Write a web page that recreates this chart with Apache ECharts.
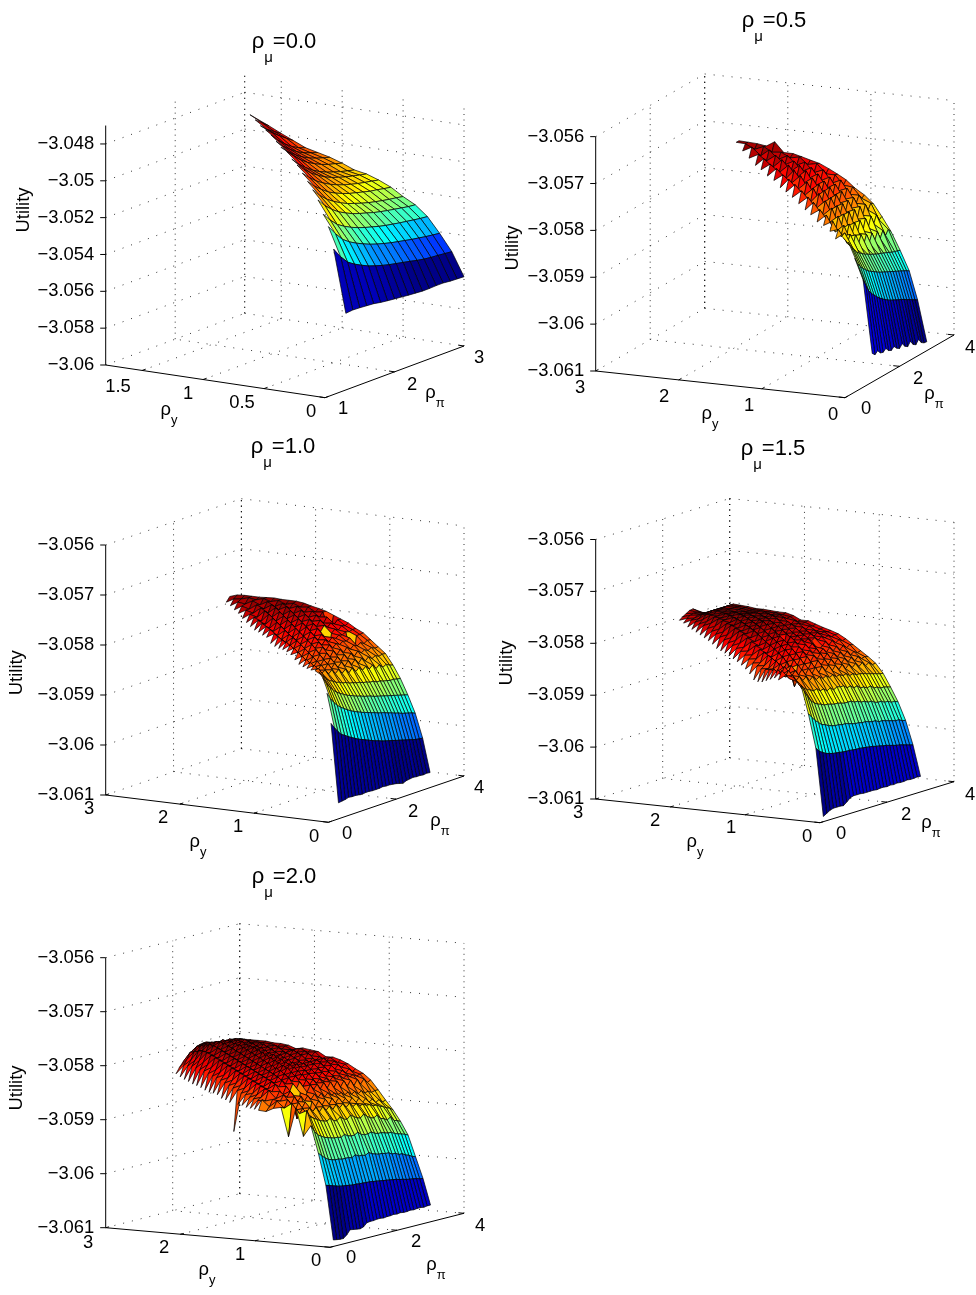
<!DOCTYPE html>
<html><head><meta charset="utf-8">
<style>html,body{margin:0;padding:0;background:#fff}#c{width:976px;height:1295px}</style>
<script src="https://cdn.jsdelivr.net/npm/echarts@6/dist/echarts.min.js"></script>
</head><body><div id="c"></div>
<script>
// Surface heights: utility above the axis floor, in units of 1e-5.
// Each row is one rho_y; its last value is at the largest rho_pi. Short rows start at a larger rho_pi
// because the surface only exists over a staircase part of the (rho_y, rho_pi) plane.
const rhoY_fine=[0,.1,.2,.3,.4,.5,.6,.7,.8,.9,1,1.1,1.2,1.3,1.4,1.5,1.6,1.7,1.8,1.9,2,2.1,2.2,2.3,2.4,2.5,2.6,2.7,2.8,2.9,3];
const rhoY_05=[0,.11,.21,.32,.43,.54,.64,.75,.86,.97,1.07,1.18,1.29,1.4,1.5,1.61,1.72,1.83,1.93,2.04,2.15,2.26];
const rhoPi_00=[1.3,1.4,1.5,1.6,1.7,1.8,1.9,2,2.1,2.2,2.3,2.4,2.5,2.6,2.7,2.8,2.9,3];
const util_00=[
[416,420,418,415,412,405,400,396,392,388,385,382,382,384,384,380,378,376],
[755,699,656,631,611,593,580,568,558,550,542,534,525,518,513,510,506,502],
[853,801,756,728,707,689,673,660,649,639,631,623,615,609,602,597,592],
[896,851,813,789,769,753,740,729,718,709,702,695,689,683,677,673],
[950,905,870,843,823,805,792,781,769,760,752,745,738,731,727],
[981,937,902,876,854,836,823,810,799,790,782,775,769,762],
[1003,963,931,903,883,867,853,843,833,823,817,809,803],
[1024,986,953,928,907,890,876,865,855,847,840,832],
[1044,1006,972,946,923,906,893,881,872,863,855],
[1052,1011,978,950,928,911,898,886,876,867],
[1070,1031,996,968,947,929,915,905,894],
[1068,1030,1000,974,954,939,927,916],
[1077,1036,1005,978,958,944,932],
[1088,1046,1011,983,962,948],
[1091,1060,1030,1003,977],
[1090,1055,1030,1006],
[1098,1068,1037],
[1102,1066]];
const rhoPi_05=[1,1.1,1.2,1.3,1.4,1.5,1.6,1.7,1.8,1.9,2,2.1,2.2,2.3,2.4,2.5,2.6,2.7,2.8,2.9,3];
const util_05=[
[61,55,60,52,50,55,47,44,49,42,38,45,36,32,40,30,26,34,24,20,19],
[216,200,186,177,170,163,157,152,147,143,139,136,133,130,127,124,120,117,113,110,106],
[260,245,236,228,222,216,212,208,204,200,197,194,191,188,185,182,179,176,173,170,166],
[289,276,266,258,252,248,243,240,236,233,230,227,225,222,220,217,214,212,210,208],
[296,300,274,290,262,282,258,276,252,270,248,266,246,262,244,258,244,254,246],
[285,302,284,304,276,300,272,296,270,294,268,292,268,290,270,286,272,276],
[296,314,288,318,286,316,286,314,286,312,288,312,290,310,294,306,301],
[303,322,302,330,302,328,302,326,304,326,306,326,310,324,314,318],
[305,328,312,340,314,340,316,340,318,340,320,340,324,336,330],
[315,338,322,350,324,350,326,350,328,350,332,352,338,346],
[320,344,330,356,334,358,336,358,340,360,344,358,356],
[328,352,338,364,342,366,346,368,350,370,358,366],
[336,360,346,372,352,376,356,376,362,378,375],
[342,366,354,378,360,382,366,382,374,380],
[346,370,358,384,368,386,374,388,385],
[356,378,366,390,376,392,384,390],
[360,382,372,394,382,394,390],
[368,388,380,400,392,411],
[372,392,386,402,400],
[382,402,394,403],
[392,404,404],
[405,405]];
const rhoPi_10=[.3,.4,.5,.6,.7,.8,.9,1,1.1,1.2,1.3,1.4,1.5,1.6,1.7,1.8,1.9,2,2.1,2.2,2.3,2.4,2.5,2.6,2.7,2.8,2.9,3];
const util_10=[
[32,33,34,36,35,35,34,33,34,34,33,33,33,34,33,33,32,31,29,27,30,31,32,31,31,30,31,30],
[189,178,168,160,156,151,147,143,139,136,133,130,127,124,122,119,117,115,113,111,109,107,105,103,101,99,98,97],
[245,232,222,214,208,203,198,194,190,187,184,181,179,176,174,171,169,167,164,162,159,157,154,152,150,148,145],
[271,258,248,240,234,229,225,221,218,215,212,210,207,205,203,200,198,196,194,192,190,188,186,184,182,180],
[280,270,262,255,252,247,245,241,240,236,235,232,231,228,227,224,224,220,220,217,216,214,214,212,211],
[278,280,268,272,262,268,258,264,254,260,250,258,248,254,246,252,244,250,240,246,238,242,238,236],
[275,282,270,278,266,276,264,272,262,270,260,268,258,266,256,264,256,262,256,260,256,258,257],
[274,284,272,282,270,280,268,278,268,276,266,276,266,274,266,274,268,272,268,272,268,269],
[273,286,274,286,274,286,274,284,274,284,274,282,274,282,276,282,278,282,278,282,281],
[274,288,276,290,280,292,282,292,284,292,284,290,286,290,288,292,240,292,292,293],
[279,292,280,294,284,298,288,298,290,298,292,298,294,298,296,300,298,300,300],
[285,296,284,298,288,302,292,304,296,304,298,235,300,306,302,308,306,309],
[287,298,288,302,292,306,296,310,300,312,304,314,308,314,310,316,315],
[287,300,290,304,296,310,300,316,306,318,310,320,312,322,285,321],
[285,300,292,306,298,314,304,320,310,322,316,326,320,328,327],
[285,302,294,310,302,318,310,324,316,328,320,330,326,331],
[287,304,298,314,306,322,314,328,320,332,326,334,334],
[295,308,302,318,310,326,318,332,324,336,332,338],
[295,310,304,322,314,330,322,336,330,338,340],
[297,312,308,326,318,334,328,338,334,340],
[297,314,310,328,322,336,330,340,340],
[300,316,314,330,326,338,336,341],
[304,318,318,332,330,340,340],
[308,322,322,336,336,339],
[314,326,328,338,339],
[317,330,334,339],
[321,332,338],
[324,333]];
const rhoPi_15=[.1,.2,.3,.4,.5,.6,.7,.8,.9,1,1.1,1.2,1.3,1.4,1.5,1.6,1.7,1.8,1.9,2,2.1,2.2,2.3,2.4,2.5,2.6,2.7,2.8,2.9,3];
const util_15=[
[10,14,18,20,20,20,19,24,30,32,32,32,31,31,31,31,30,31,31,30,31,30,31,30,30,31,30,30,31,30],
[140,132,128,124,122,120,119,118,117,116,116,115,114,114,113,112,111,110,108,107,105,104,102,100,98,97,95,93,91,89],
[205,196,188,182,176,174,170,168,166,166,164,164,162,160,158,158,156,156,154,152,152,148,148,146,144,142,140,140,136,135],
[259,244,232,222,216,212,210,206,206,204,202,202,200,198,198,198,194,194,190,190,186,186,182,180,180,176,176,172,172,169],
[272,262,252,246,240,238,234,236,230,232,226,230,224,228,226,226,220,222,216,218,212,212,208,210,204,204,200,200,198,196],
[275,266,270,258,264,254,260,250,256,248,252,246,250,244,248,242,244,240,242,236,238,234,234,232,230,228,226,224,222,221],
[264,280,266,276,264,272,262,270,258,268,256,266,254,264,254,262,250,258,248,256,246,252,244,250,242,248,240,244,238,239],
[264,278,266,280,264,278,236,276,262,274,260,272,260,272,262,270,258,266,256,264,254,260,252,258,250,256,250,252,250],
[258,276,268,282,268,282,268,282,268,280,268,280,268,278,270,278,266,274,264,270,262,268,260,266,258,262,258,260],
[252,272,270,284,274,288,276,288,276,286,276,286,278,284,278,284,274,280,272,278,270,276,268,274,268,272,270],
[246,268,268,286,278,292,282,294,282,292,282,292,284,292,284,290,282,273,280,286,278,284,278,282,278,280],
[243,266,270,288,282,296,286,298,288,298,290,298,292,298,292,296,290,294,288,292,288,290,286,288,288],
[243,268,272,290,286,300,290,302,292,302,294,304,296,302,294,300,292,298,292,296,292,294,292,293],
[251,270,276,292,290,302,294,306,296,306,280,306,298,304,296,302,296,300,294,298,294,296,297],
[257,274,280,296,294,306,298,308,300,310,302,310,302,308,300,306,298,304,298,302,300,302],
[261,278,284,300,298,310,302,312,304,314,306,314,306,312,304,310,304,308,304,306,307],
[264,282,288,304,302,314,306,316,308,318,308,316,308,314,306,312,304,310,306,307],
[266,284,292,308,306,316,310,318,312,320,312,318,312,318,312,316,312,314,314],
[268,286,294,310,308,318,312,320,314,320,316,320,316,320,316,318,316,318],
[270,288,296,312,310,320,314,322,316,322,316,320,316,320,316,318,318],
[271,290,298,314,312,322,316,324,318,322,318,322,318,320,318,319],
[272,292,300,314,314,322,318,324,320,322,320,320,320,320,320],
[277,294,302,316,316,322,320,324,320,322,320,320,320,320],
[280,296,304,316,316,322,320,322,320,322,322,322,322],
[282,298,306,316,316,320,320,322,322,323,323,323],
[284,300,306,316,316,320,320,322,324,324,324],
[286,300,306,314,314,318,318,318,318,317],
[288,300,304,310,310,312,312,310,309],
[289,300,302,306,306,306,304,304],
[293,300,304,306,306,304,301],
[295,300,304,308,309,305]];
const rhoPi_20=[.1,.2,.3,.4,.5,.6,.7,.8,.9,1,1.1,1.2,1.3,1.4,1.5,1.6,1.7,1.8,1.9,2,2.1,2.2,2.3,2.4,2.5,2.6,2.7,2.8,2.9,3];
const util_20=[
[12,11,10,10,15,23,22,21,20,22,28,29,29,30,30,29,30,30,31,30,31,30,30,31,30,31,31,30,31,31],
[112,110,108,106,104,103,102,101,100,100,99,99,98,98,97,96,95,94,93,92,91,90,88,87,85,84,83,82,80,79],
[170,164,158,154,152,150,150,148,148,148,146,150,146,146,144,148,144,142,140,140,138,138,134,134,130,130,126,124,120,118],
[220,208,200,196,192,190,188,186,186,184,188,184,182,182,186,180,178,178,180,176,174,174,172,170,170,166,164,162,160,157],
[199,245,232,228,224,220,218,216,220,214,212,218,212,210,216,212,208,206,212,206,202,200,204,196,194,190,194,186,184,181],
[250,238,246,236,244,236,242,232,240,232,238,230,238,230,236,228,234,226,230,224,226,222,222,218,218,214,212,208,206,201],
[196,256,242,254,242,252,222,250,238,248,238,248,236,246,236,244,234,240,230,238,226,234,224,230,222,226,218,222,216,218],
[249,246,260,250,262,252,260,250,258,250,258,250,256,248,254,248,250,246,248,242,246,240,244,238,242,236,238,234,236,236],
[246,258,256,266,260,270,260,216,262,238,260,272,262,270,260,270,258,268,256,266,254,264,252,262,250,260,250,258,250,253],
[239,246,258,258,270,262,276,264,278,266,278,268,278,268,276,268,274,268,272,266,272,266,270,264,268,264,266,262,264,264],
[240,258,254,272,268,280,274,284,276,286,278,286,278,286,276,284,274,282,274,280,272,278,270,276,270,274,268,274,268,271],
[239,254,258,272,270,282,278,288,280,290,282,290,282,290,280,288,280,286,278,284,278,284,276,284,276,282,276,280,279],
[238,254,260,274,272,284,280,290,284,294,284,296,284,294,284,292,282,290,282,290,282,288,282,288,282,286,282,285],
[237,254,260,276,274,286,282,292,286,296,286,298,286,296,286,294,286,292,286,292,286,292,286,292,286,290,289],
[238,256,262,278,276,288,284,294,288,298,288,300,288,298,286,294,286,292,286,292,286,292,286,292,286,289],
[237,256,264,280,278,290,286,296,290,300,290,302,290,300,288,296,288,296,290,298,290,298,292,298,297],
[184,258,266,282,280,292,288,298,292,302,292,304,292,302,290,298,290,298,292,300,294,300,296,299],
[235,260,268,284,282,294,290,300,294,304,296,306,294,304,292,300,292,300,294,302,296,302,301],
[237,262,270,286,284,296,292,302,296,306,298,308,296,304,294,302,294,300,296,300,298,299],
[237,264,272,288,286,298,294,304,298,308,300,310,298,306,298,304,298,304,300,304,304],
[241,266,274,290,288,300,296,306,300,310,302,312,300,308,300,306,300,306,302,306],
[241,268,276,292,290,302,298,308,302,312,304,312,302,308,302,308,302,306,306],
[240,268,278,294,292,304,300,310,304,314,304,312,304,310,304,308,306,308],
[241,270,280,296,294,306,302,312,306,314,306,314,306,310,306,308,308],
[243,272,282,298,296,308,304,314,306,314,308,314,306,312,308,308],
[244,272,284,300,298,310,304,314,308,314,308,312,308,310,308],
[244,272,284,300,298,310,304,312,306,312,306,310,308,308],
[246,272,282,298,296,306,300,308,302,306,302,302,299],
[247,270,280,294,292,302,298,304,300,302,298,298],
[249,268,278,290,288,298,296,300,298,298,297],
[252,262,270,276,282,288,292,295,296,297]];

const zTicks_00=[-3.06,-3.058,-3.056,-3.054,-3.052,-3.05,-3.048];
const zLabels_00=['−3.06','−3.058','−3.056','−3.054','−3.052','−3.05','−3.048'];
const zTicks_rest=[-3.061,-3.06,-3.059,-3.058,-3.057,-3.056];
const zLabels_rest=['−3.061','−3.06','−3.059','−3.058','−3.057','−3.056'];
const yTicks_00=[0,.5,1,1.5], yLabels_00=['0','0.5','1','1.5'];
const piTicks_00=[1,2,3];
const yTicks_rest=[0,1,2,3], piTicks_rest=[0,2,4];

const FONT='"Liberation Sans",Arial,sans-serif';
const panels=[
{name:'0.0',rhoY:rhoY_fine,rhoPi:rhoPi_00,util:util_00,zTicks:zTicks_00,zLabels:zLabels_00,yTicks:yTicks_00,yLabels:yLabels_00,piTicks:piTicks_00,
 zLim:[-3.06,-3.047],yLim:[0,1.8],piLim:[1,3],O:[325,397.7],L:[105.7,365],R:[464,346],zPx:18.42,
 title:[284,41],yName:[169,417],piName:[435,400],uName:[24.3,210],
 yPos:[[311,412],[242,403],[188,394],[118,387]],piPos:[[343,409],[412,385],[479,358]]},
{name:'0.5',rhoY:rhoY_05,rhoPi:rhoPi_05,util:util_05,zTicks:zTicks_rest,zLabels:zLabels_rest,yTicks:yTicks_rest,piTicks:piTicks_rest,
 zLim:[-3.061,-3.056],yLim:[0,3],piLim:[0,4],O:[845,397.7],L:[595.7,371],R:[954,335],zPx:46.87,
 title:[774,20],yName:[710,421],piName:[934,401],uName:[512.7,248],
 yPos:[[833,415],[749,406],[664,397],[580,388]],piPos:[[866,409],[918,379],[970,348]]},
{name:'1.0',rhoY:rhoY_fine,rhoPi:rhoPi_10,util:util_10,zTicks:zTicks_rest,zLabels:zLabels_rest,yTicks:yTicks_rest,piTicks:piTicks_rest,
 zLim:[-3.061,-3.056],yLim:[0,3],piLim:[0,4],O:[328.3,822.3],L:[105.7,795],R:[464,776],zPx:50,
 title:[283,446],yName:[198,849],piName:[440,828],uName:[17.3,672.7],
 yPos:[[314,837],[238,827],[163,818],[89,809]],piPos:[[347,834],[413,812],[479,788]]},
{name:'1.5',rhoY:rhoY_fine,rhoPi:rhoPi_15,util:util_15,zTicks:zTicks_rest,zLabels:zLabels_rest,yTicks:yTicks_rest,piTicks:piTicks_rest,
 zLim:[-3.061,-3.056],yLim:[0,3],piLim:[0,4],O:[820,822.7],L:[595.7,799],R:[954,781.7],zPx:51.9,
 title:[773,448],yName:[695,849],piName:[931,830],uName:[506.7,663],
 yPos:[[807,837],[731,828],[655,821],[578,813]],piPos:[[841,834],[906,815],[970,795]]},
{name:'2.0',rhoY:rhoY_fine,rhoPi:rhoPi_20,util:util_20,zTicks:zTicks_rest,zLabels:zLabels_rest,yTicks:yTicks_rest,piTicks:piTicks_rest,
 zLim:[-3.061,-3.056],yLim:[0,3],piLim:[0,4],O:[330,1247.3],L:[105.7,1227.7],R:[464,1213.3],zPx:54,
 title:[284,876],yName:[207,1277],piName:[436,1272],uName:[17.3,1088],
 yPos:[[316,1261],[240,1255],[164,1248],[88,1243]],piPos:[[351,1258],[416,1242],[480,1226]]}
];

function jet(v){
  const k=Math.min(63,Math.max(0,Math.floor(v*64)));const t=(k+.5)/64;
  const f=c=>Math.round(255*Math.max(0,Math.min(1,1.5-Math.abs(4*t-c))));
  return 'rgb('+f(3)+','+f(2)+','+f(1)+')';
}
function projector(p){
  const ys=p.yLim[1]-p.yLim[0], ps=p.piLim[1]-p.piLim[0];
  const ax=(p.L[0]-p.O[0])/ys, ay=(p.L[1]-p.O[1])/ys, bx=(p.R[0]-p.O[0])/ps, by=(p.R[1]-p.O[1])/ps;
  return (y,pi,z)=>[p.O[0]+(y-p.yLim[0])*ax+(pi-p.piLim[0])*bx,
                    p.O[1]+(y-p.yLim[0])*ay+(pi-p.piLim[0])*by-(z-p.zLim[0])*1000*p.zPx];
}
const sub=(a,b)=>'{r|'+a+'}{s|'+b+'}';
const rich=(fs,lh,ss,sh)=>({
  r:{fontFamily:FONT,fontWeight:'normal',fontSize:fs,lineHeight:lh,verticalAlign:'top',color:'#000',fill:'#000'},
  s:{fontFamily:FONT,fontWeight:'normal',fontSize:ss,lineHeight:sh,verticalAlign:'bottom',color:'#000',fill:'#000'}});

const series=[];const titles=[];
panels.forEach((p)=>{
  const P=projector(p);
  const [z0,z1]=p.zLim,[y0,y1]=p.yLim,[q0,q1]=p.piLim;
  const dots=[];
  p.zTicks.forEach(z=>{dots.push([y1,q0,z,y1,q1,z,0]);dots.push([y1,q1,z,y0,q1,z,0]);});
  p.yTicks.forEach(y=>{dots.push([y,q1,z0,y,q1,z1,1]);if(y>y0&&y<y1)dots.push([y,q0,z0,y,q1,z0,0]);});
  p.piTicks.forEach(q=>{if(q>q0)dots.push([y1,q,z0,y1,q,z1,1]);if(q>q0&&q<q1)dots.push([y0,q,z0,y1,q,z0,0]);});
  dots.push([y1,q1,z0,y1,q1,z1,1]);
  const seg=(api,a,b)=>{const s=api.coord(a),e=api.coord(b);return {x1:s[0],y1:s[1],x2:e[0],y2:e[1]};};
  series.push({type:'custom',name:'grid '+p.name,coordinateSystem:'cartesian2d',silent:true,animation:false,clip:false,data:dots,z:1,
    renderItem:(o,api)=>{
      const v=[0,1,2,3,4,5,6].map(i=>api.value(i));
      return {type:'line',shape:seg(api,P(v[0],v[1],v[2]),P(v[3],v[4],v[5])),
        style:{stroke:'#000',lineWidth:.8,lineDash:v[6]?[1,4.5]:[1,8],fill:null}};
    }});
  const axes=[[y1,q0,z0,y1,q0,z1],[y1,q0,z0,y0,q0,z0],[y0,q0,z0,y0,q1,z0]];
  const tl=.025;
  p.yTicks.forEach(y=>axes.push([y,q0,z0,y,q0+(q1-q0)*tl,z0]));
  p.piTicks.forEach(q=>axes.push([y0,q,z0,y0+(y1-y0)*tl,q,z0]));
  series.push({type:'custom',name:'axes '+p.name,coordinateSystem:'cartesian2d',silent:true,animation:false,clip:false,data:axes,z:2,
    renderItem:(o,api)=>{
      const v=[0,1,2,3,4,5].map(i=>api.value(i));
      return {type:'line',shape:seg(api,P(v[0],v[1],v[2]),P(v[3],v[4],v[5])),style:{stroke:'#000',lineWidth:1,fill:null}};
    }});
  series.push({type:'custom',name:'ztick '+p.name,coordinateSystem:'cartesian2d',silent:true,animation:false,clip:false,
    data:p.zTicks.map(z=>[z]),z:2,
    renderItem:(o,api)=>{
      const c=api.coord(P(y1,q0,api.value(0)));
      return {type:'line',shape:{x1:c[0]-5.5,y1:c[1],x2:c[0],y2:c[1]},style:{stroke:'#000',lineWidth:1,fill:null}};
    }});
  const zs=p.util.flat();const lo=Math.min(...zs),hi=Math.max(...zs);
  const nq=p.rhoPi.length;const cells=[];
  for(let i=p.util.length-2;i>=0;i--){
    const a=p.util[i],b=p.util[i+1],oa=nq-a.length,ob=nq-b.length;
    for(let j=nq-2;j>=Math.max(oa,ob);j--){
      cells.push([p.rhoY[i],p.rhoY[i+1],p.rhoPi[j],p.rhoPi[j+1],a[j-oa],a[j+1-oa],b[j+1-ob],b[j-ob]]);
    }
  }
  series.push({type:'custom',name:'Utility ρμ='+p.name,coordinateSystem:'cartesian2d',silent:true,animation:false,clip:false,progressive:0,
    data:cells,z:3,
    renderItem:(o,api)=>{
      const a=api.value(0),b=api.value(1),c=api.value(2),d=api.value(3);
      const Z=k=>z0+api.value(k)*1e-5;
      const pts=[P(a,c,Z(4)),P(a,d,Z(5)),P(b,d,Z(6)),P(b,c,Z(7))].map(q=>api.coord(q));
      return {type:'polygon',shape:{points:pts},
        style:{fill:jet((api.value(4)-lo)/(hi-lo)),stroke:'#000',lineWidth:.7,lineJoin:'round'}};
    }});
  const tx=[];
  p.zTicks.forEach((z,i)=>{const a=P(y1,q0,z);tx.push({t:p.zLabels[i],x:a[0]-11.5,y:a[1],al:'right'});});
  p.yTicks.forEach((y,i)=>tx.push({t:p.yLabels?p.yLabels[i]:String(y),x:p.yPos[i][0],y:p.yPos[i][1],al:'center'}));
  p.piTicks.forEach((q,i)=>tx.push({t:String(q),x:p.piPos[i][0],y:p.piPos[i][1],al:'center'}));
  tx.push({t:sub('ρ','y'),x:p.yName[0],y:p.yName[1]-16,al:'center',rich:1});
  tx.push({t:sub('ρ','π'),x:p.piName[0],y:p.piName[1]-16,al:'center',rich:1});
  tx.push({t:'Utility',x:p.uName[0],y:p.uName[1],al:'center',rot:1});
  series.push({type:'custom',name:'text '+p.name,coordinateSystem:'cartesian2d',silent:true,animation:false,clip:false,
    data:tx.map((_,i)=>[i]),z:4,
    renderItem:(o,api)=>{
      const e=tx[api.value(0)];const c=api.coord([e.x,e.y]);
      const st={text:e.t,x:0,y:0,align:e.al,verticalAlign:e.rich?'top':'middle',fill:'#000',fontFamily:FONT,fontSize:18.4};
      if(e.rich)st.rich=rich(18.4,20,13,26);
      return {type:'text',x:c[0],y:c[1],rotation:e.rot?Math.PI/2:0,style:st};
    }});
  titles.push({text:'{r|ρ}{s|μ}{r|='+p.name+'}',left:p.title[0]-5,top:p.title[1]-15,textAlign:'center',
    textStyle:{fontWeight:'normal',rich:rich(22,24,15,34)}});
});

const chart=echarts.init(document.getElementById('c'),null,{renderer:'canvas',width:976,height:1295});
chart.setOption({
  animation:false,backgroundColor:'#fff',title:titles,
  grid:{left:0,right:0,top:0,bottom:0,containLabel:false},
  xAxis:{type:'value',min:0,max:976,show:false},
  yAxis:{type:'value',min:0,max:1295,inverse:true,show:false},
  series
});
</script></body></html>
